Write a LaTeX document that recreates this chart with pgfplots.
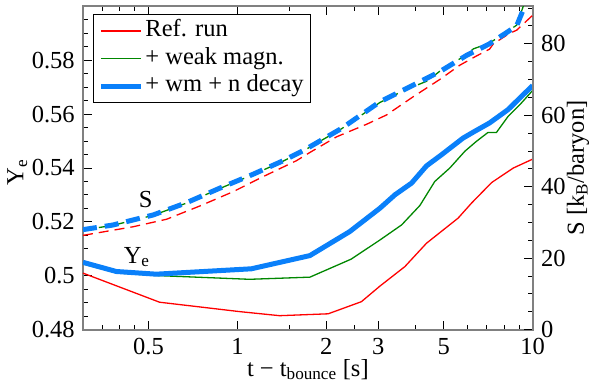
\documentclass[border=0pt]{standalone}
\usepackage{fontspec}
\setmainfont{Liberation Serif}
\newfontfamily\tickfont{Liberation Serif}
\usepackage{pgfplots}
\pgfplotsset{compat=1.18}
\definecolor{myblue}{RGB}{10,128,250}
\definecolor{myred}{RGB}{255,0,0}
\definecolor{mygreen}{RGB}{0,135,0}
\newcommand{\fs}{\fontsize{24.5}{28}\selectfont}
\newcommand{\tr}[1]{\textrm{\tickfont #1}}
\begin{document}
\fs
\begin{tikzpicture}
\begin{axis}[name=ax,
  scale only axis, width=449.7pt, height=323.4pt,
  xmode=log, xmin=0.3, xmax=10,
  /pgf/number format/assume math mode=true,
  axis line style={gray, line width=1.6pt},
  major tick length=9pt, minor tick length=5pt,
  every tick/.style={black, line width=1pt},
  tick label style={font=\fs\tickfont},
  label style={font=\fs},
  ymin=0.48, ymax=0.6,
  ytick={0.48,0.5,0.52,0.54,0.56,0.58},
  yticklabels={\tr{0.48},\tr{0.5},\tr{0.52},\tr{0.54},\tr{0.56},\tr{0.58}},
  minor ytick={0.485,0.49,0.495,0.505,0.51,0.515,0.525,0.53,0.535,0.545,0.55,0.555,0.565,0.57,0.575,0.585,0.59,0.595},
  ytick pos=left,
  xtick={0.5,1,2,3,5,10}, xticklabels={\tr{0.5},\tr{1},\tr{2},\tr{3},\tr{5},\tr{10}},
  minor xtick={0.35,0.4,0.45,1.5,2.5,4,6,7,8,9},
  xlabel={t − t\textsubscript{bounce} [s]},
  every axis x label/.style={at={(axis description cs:0.5,0)}, anchor=base, yshift=-46.3pt},
  ylabel={Y\textsubscript{e}},
  every axis y label/.style={at={(axis description cs:-0.146,0.487)}, rotate=90, anchor=center},
  legend cell align=left,
  legend style={at={(0.0222,0.976)}, anchor=north west, draw=black, line width=1pt,
    font=\fs, inner xsep=5pt, inner ysep=3pt, row sep=0.5pt,
    nodes={inner sep=2pt, text height=17pt, text depth=6pt}},
  legend image code/.code={\draw[#1] (0pt,0pt) -- (40pt,0pt);},
]
\addplot[myred, line width=1.3pt] coordinates {
(0.3,0.5010) (0.545,0.4902) (1.02,0.4867) (1.39,0.4852) (2.03,0.4859) (2.63,0.4904)
(3.04,0.4962) (3.69,0.5034) (4.37,0.5121) (5.59,0.5214) (6.21,0.527) (7.26,0.5346)
(8.6,0.5400) (10,0.5433)};
\addlegendentry{Ref. run}
\addplot[mygreen, line width=1.3pt] coordinates {
(0.3,0.5044) (0.389,0.5011) (0.531,0.5001) (1.10,0.4987) (1.76,0.4995) (2.43,0.5062)
(3.04,0.5133) (3.60,0.5189) (4.15,0.5261) (4.66,0.5350) (5.24,0.5400) (5.89,0.5462)
(6.45,0.5499) (7.06,0.5532) (7.54,0.5532) (8.26,0.5592) (9.05,0.5635) (10,0.5688)};
\addlegendentry{+ weak magn.}
\addplot[myblue, line width=5pt] coordinates {
(0.3,0.5050) (0.389,0.5016) (0.531,0.5006) (1.115,0.5026) (1.76,0.5075) (2.40,0.5164)
(3.04,0.5251) (3.42,0.5301) (3.89,0.5344) (4.37,0.5408) (4.91,0.5449) (5.81,0.5511)
(6.36,0.5536) (7.14,0.5567) (8.26,0.5617) (9.05,0.5660) (10,0.5706)};
\addlegendentry{+ wm + n decay}
\node at (axis cs:0.489,0.5282) {S};
\node at (axis cs:0.456,0.5070) {Y\textsubscript{e}};
\end{axis}
\begin{axis}[
  scale only axis, width=449.7pt, height=323.4pt,
  xmode=log, xmin=0.3, xmax=10,
  /pgf/number format/assume math mode=true,
  axis line style={gray, line width=1.6pt},
  major tick length=9pt, minor tick length=5pt,
  every tick/.style={black, line width=1pt},
  tick label style={font=\fs\tickfont},
  label style={font=\fs},
  ymin=0, ymax=90.5,
  axis y line*=right, axis x line=none,
  ytick={0,20,40,60,80}, yticklabels={\tr{0},\tr{20},\tr{40},\tr{60},\tr{80}},
  minor ytick={5,10,15,25,30,35,45,50,55,65,70,75,85,90},
  ylabel={S [k\textsubscript{B}/baryon]},
  every axis y label/.style={at={(axis description cs:1.1007,0.5)}, rotate=90, anchor=center},
]
\addplot[myred, line width=1.3pt, dash pattern=on 10pt off 6pt] coordinates {
(0.3,26.4) (0.443,28.8) (0.575,30.9) (0.745,34.6) (0.966,38.6) (1.22,42.8) (1.585,47.3)
(1.76,49.6) (2.17,54.0) (2.74,57.5) (3.2,60.1) (3.94,65.2) (4.84,70.0) (5.66,74.0)
(6.45,76.6) (7.14,78.5) (7.36,80.0) (8.38,83.0) (8.82,83.8) (10,88.0)};
\addplot[mygreen, line width=1.3pt, dash pattern=on 10pt off 6pt] coordinates {
(0.3,27.9) (0.379,29.2) (0.518,32.0) (0.671,35.4) (0.871,39.5) (1.13,43.4) (1.43,47.2)
(1.67,50.0) (2.25,56.2) (3.04,63.6) (3.74,67.3) (4.4,69.6) (4.84,72.3) (5.98,77.0)
(6.3,78.6) (7.14,80.2) (8.82,85.2) (9.3,90.6) (10,96.5)};
\addplot[myblue, line width=5pt, dash pattern=on 14pt off 8pt] coordinates {
(0.3,28.0) (0.379,29.3) (0.518,32.1) (0.671,35.5) (0.871,39.6) (1.13,43.5) (1.43,47.3)
(1.67,50.1) (2.25,56.3) (3.04,63.8) (3.74,67.5) (4.84,72.2) (5.98,76.8) (7.14,80.0)
(8.82,85.0) (9.4,90.6) (10,95)};
\end{axis}
\pgfresetboundingbox
\path[use as bounding box] ([shift={(-83pt,-56.3pt)}]ax.south west) rectangle ([shift={(58.3pt,6.3pt)}]ax.north east);
\end{tikzpicture}
\end{document}
